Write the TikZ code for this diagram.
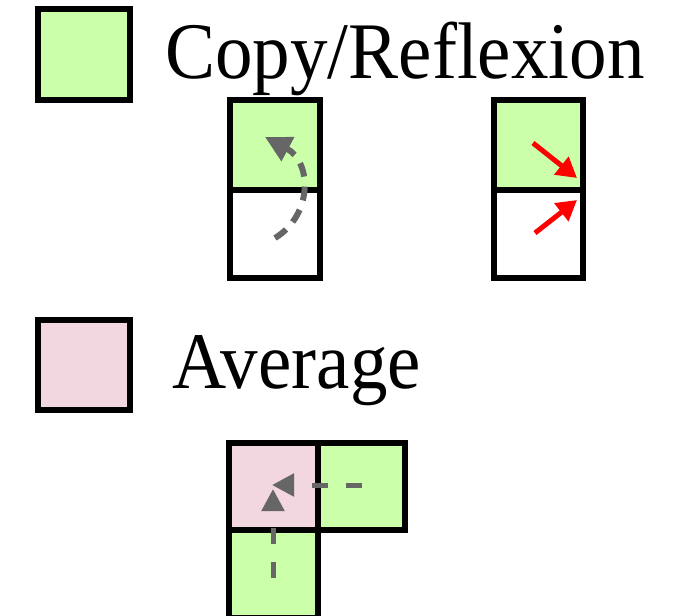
\documentclass[tikz,border=0pt]{standalone}
\usepackage{fontspec}
\setmainfont{Liberation Serif}
\usetikzlibrary{arrows.meta}
\definecolor{copygreen}{RGB}{204,255,170}
\definecolor{avgpink}{RGB}{242,214,224}
\definecolor{flowgray}{RGB}{102,102,102}
\tikzset{
  cell/.style={draw=black, line width=3pt},
  legendtext/.style={anchor=base west, inner sep=0pt, font=\fontsize{37.5}{40}\selectfont},
  flowarrow/.style={draw=flowgray, line width=2.5pt, dash pattern=on 7pt off 5pt,
    -{Triangle[length=11pt,width=11pt]}},
  redarrow/.style={draw=red, line width=2.5pt, -{Triangle[length=10pt,width=11pt]}}
}
\begin{document}
\begin{tikzpicture}[x=0.5pt,y=-0.5pt]
\useasboundingbox (0,0) rectangle (687,616);
\fill[white] (0,0) rectangle (687,616);

% legend: copy / reflexion
\draw[cell, fill=copygreen] (38,9) rectangle (130,100);
\node[legendtext] (copylbl) at (165,78) {\scalebox{1}[1.07]{Copy/Reflexion}};

% copy: curved transfer
\draw[cell, fill=copygreen] (230,100) rectangle (320,190);
\draw[cell, fill=white] (230,190) rectangle (320,278);
\coordinate (c1s) at (275,238);
\coordinate (c1e) at (265,137);
\draw[flowarrow, line width=3pt, -{Triangle[length=13pt,width=13pt]}] (c1s) .. controls (313,215) and (312,162) .. (c1e);

% reflexion: mirrored flux
\draw[cell, fill=copygreen] (494,100) rectangle (583,190);
\draw[cell, fill=white] (494,190) rectangle (583,278);
\coordinate (r1s) at (533,143);
\coordinate (r1e) at (577,178);
\coordinate (r2s) at (535,233);
\coordinate (r2e) at (577,200);
\draw[redarrow] (r1s) -- (r1e);
\draw[redarrow] (r2s) -- (r2e);

% legend: average
\draw[cell, fill=avgpink] (38,320) rectangle (130,410);
\node[legendtext] (avglbl) at (172,388) {\scalebox{1}[1.07]{Average}};

% average: corner cell from two neighbours
\draw[cell, fill=avgpink] (229,443) rectangle (318,530);
\draw[cell, fill=copygreen] (318,443) rectangle (405,530);
\draw[cell, fill=copygreen] (229,530) rectangle (318,618);
\coordinate (a1s) at (362,485);
\coordinate (a1e) at (272,485);
\coordinate (a2s) at (273,578);
\coordinate (a2e) at (273,489);
\draw[flowarrow, dash pattern=on 8pt off 9pt] (a1s) -- (a1e);
\draw[flowarrow, dash pattern=on 8pt off 9pt] (a2s) -- (a2e);
\end{tikzpicture}
\end{document}
